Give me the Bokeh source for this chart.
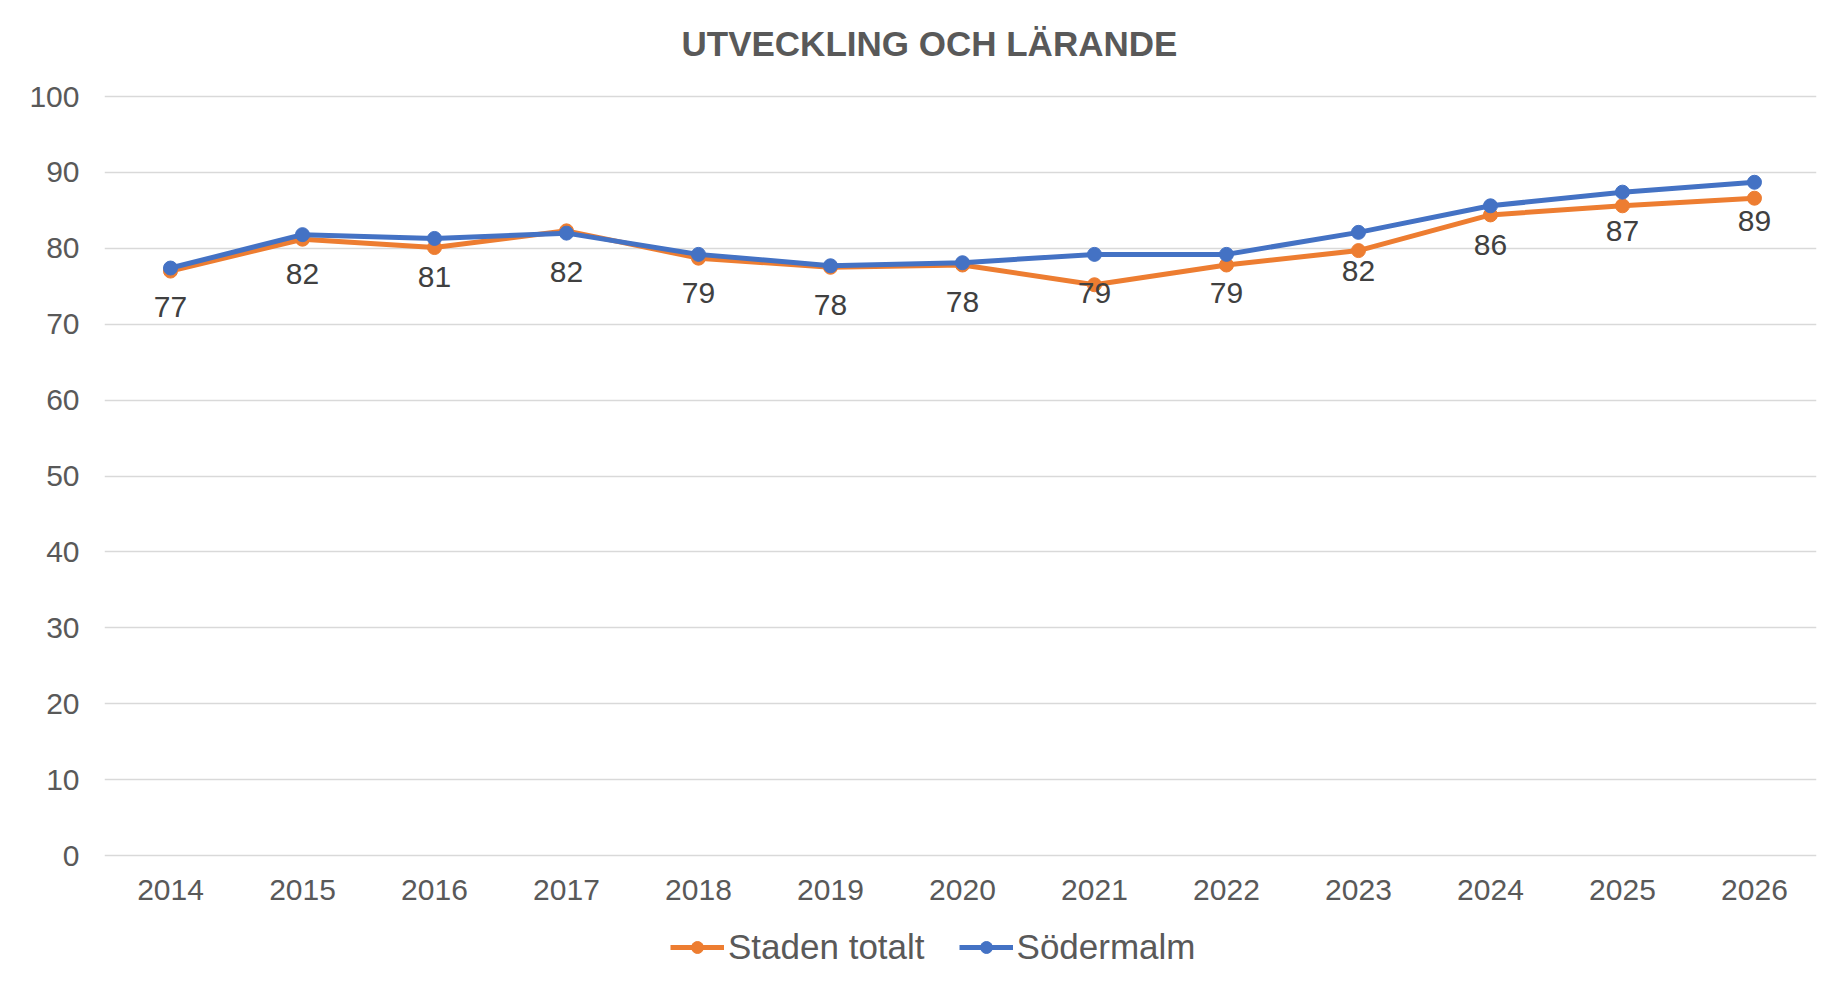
from bokeh.plotting import figure
from bokeh.models import Range1d, FixedTicker, Legend, LegendItem, Label, ColumnDataSource
from bokeh.core.properties import value
from bokeh.embed import file_html
from bokeh.resources import INLINE

years = [2014, 2015, 2016, 2017, 2018, 2019, 2020, 2021, 2022, 2023, 2024, 2025, 2026]
staden_totalt = [77.0, 81.2, 80.1, 82.3, 78.7, 77.5, 77.8, 75.2, 77.8, 79.7, 84.4, 85.6, 86.6]
sodermalm = [77.4, 81.8, 81.3, 82.0, 79.2, 77.7, 78.1, 79.2, 79.2, 82.1, 85.6, 87.4, 88.7]
y_ticks = [0, 10, 20, 30, 40, 50, 60, 70, 80, 90, 100]
title_text = "UTVECKLING OCH LÄRANDE"
series_names = ["Staden totalt", "Södermalm"]

ORANGE = "#ED7D31"
BLUE = "#4472C4"
GRAY = "#595959"
FONT = "Liberation Sans"

p = figure(width=1818, height=975, output_backend="svg", toolbar_location=None,
           x_range=Range1d(2013.5, 2026.47), y_range=Range1d(-15.02, 112.65),
           min_border_left=104, min_border_right=2, min_border_top=0, min_border_bottom=6)
p.outline_line_color = None
p.background_fill_color = "white"
p.border_fill_color = "white"

p.xgrid.grid_line_color = None
p.ygrid.grid_line_color = "#D9D9D9"
p.ygrid.grid_line_width = 1.5
p.yaxis.ticker = FixedTicker(ticks=y_ticks)
p.xaxis.ticker = FixedTicker(ticks=years)
p.xaxis.major_label_overrides = {y: str(y) for y in years}
p.xaxis.fixed_location = 0

for ax in (p.xaxis, p.yaxis):
    ax.axis_line_color = None
    ax.major_tick_line_color = None
    ax.minor_tick_line_color = None
    ax.major_label_text_font = FONT
    ax.major_label_text_font_size = "30px"
    ax.major_label_text_color = GRAY
p.xaxis.major_label_standoff = 18
p.yaxis.major_label_standoff = 19

src = ColumnDataSource(dict(x=years, s=staden_totalt, b=sodermalm,
                            lab=[str(int(round(v))) for v in sodermalm]))

l1 = p.line("x", "s", source=src, line_color=ORANGE, line_width=5)
c1 = p.scatter("x", "s", source=src, size=14, fill_color=ORANGE, line_color=ORANGE)
l2 = p.line("x", "b", source=src, line_color=BLUE, line_width=5)
c2 = p.scatter("x", "b", source=src, size=14, fill_color=BLUE, line_color=BLUE)

p.text("x", "b", text="lab", source=src, text_align="center", text_baseline="middle",
       y_offset=39, text_font=value(FONT), text_font_size="30px", text_color="#404040")

p.add_layout(Label(x=577, y=926, x_units="screen", y_units="screen", text=title_text,
                   text_align="left", text_baseline="middle", text_font=FONT,
                   text_font_size="35px", text_font_style="bold", text_color=GRAY))

legend = Legend(items=[LegendItem(label=series_names[0], renderers=[l1, c1]),
                       LegendItem(label=series_names[1], renderers=[l2, c2])],
                orientation="horizontal", location=(566, 2),
                label_text_font=FONT, label_text_font_size="35px", label_text_color=GRAY,
                glyph_width=54, glyph_height=30, label_standoff=4, spacing=34,
                padding=0, margin=0, border_line_color=None, background_fill_alpha=0)
p.add_layout(legend)

open("out.html", "w").write(file_html(p, INLINE))
